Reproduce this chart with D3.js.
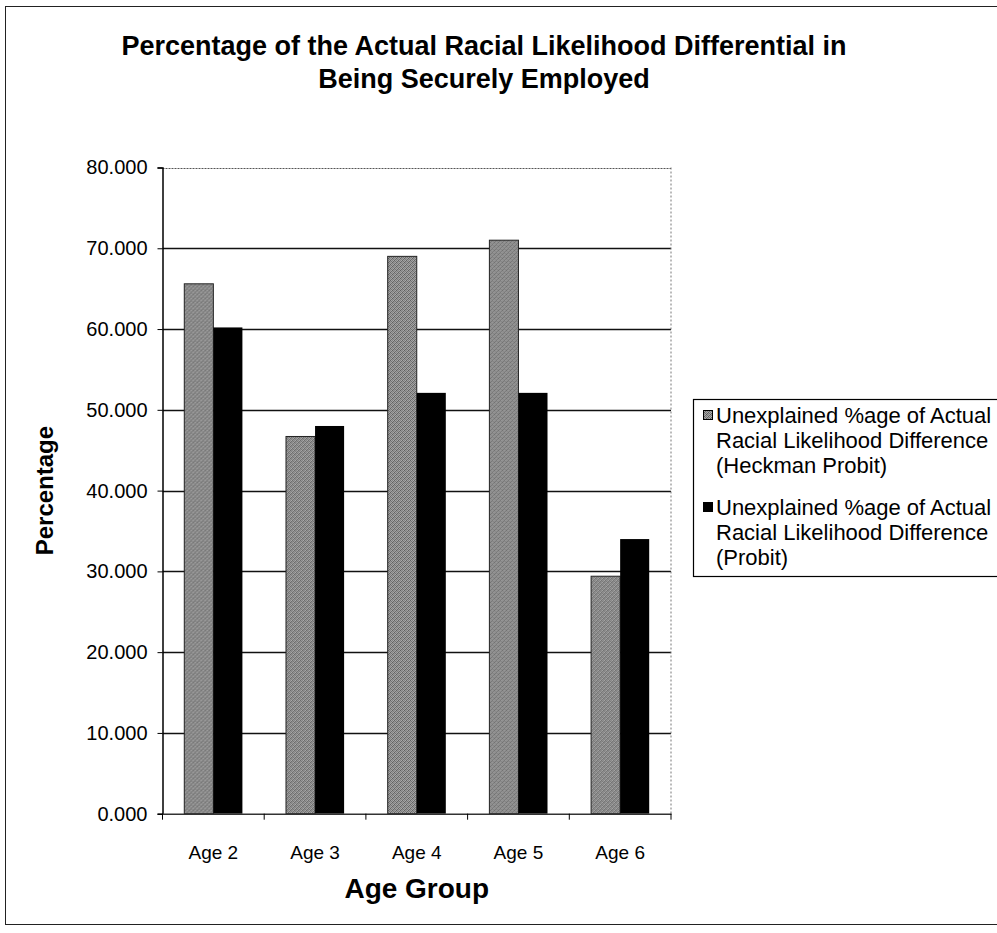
<!DOCTYPE html>
<html>
<head>
<meta charset="utf-8">
<script src="https://cdn.jsdelivr.net/npm/d3@7"></script>
<style>
  html, body { margin: 0; padding: 0; background: #fff; }
  svg { display: block; font-family: "Liberation Sans", Arial, Helvetica, sans-serif; }
</style>
</head>
<body>
<svg id="chart" width="997" height="933"></svg>
<script>
// Age groups along the x axis
const categories = ["Age 2", "Age 3", "Age 4", "Age 5", "Age 6"];
// Unexplained share of the racial likelihood difference, by model
const heckmanProbit = [65.6, 46.7, 69.0, 71.0, 29.4];
const probit = [60.2, 48.0, 52.1, 52.1, 34.0];
const seriesNames = [
  ["Unexplained %age of Actual", "Racial Likelihood Difference", "(Heckman Probit)"],
  ["Unexplained %age of Actual", "Racial Likelihood Difference", "(Probit)"]
];
const yTicks = [0, 10, 20, 30, 40, 50, 60, 70, 80];

const svg = d3.select("#chart");

// stippled grey fill for the first series (4x4 ordered dither tile)
const ditherTile = [
  ["#5a5a5a", "#a8a8a8", "#7c7c7c", "#b4b4b4"],
  ["#9c9c9c", "#6e6e6e", "#aaaaaa", "#626262"],
  ["#848484", "#b0b0b0", "#585858", "#9a9a9a"],
  ["#a4a4a4", "#686868", "#a0a0a0", "#787878"]
];
const defs = svg.append("defs");
const pat = defs.append("pattern")
  .attr("id", "dither").attr("width", 4).attr("height", 4)
  .attr("patternUnits", "userSpaceOnUse");
ditherTile.forEach((row, py) => row.forEach((c, px) =>
  pat.append("rect").attr("x", px).attr("y", py).attr("width", 1).attr("height", 1).attr("fill", c)));

const fills = ["url(#dither)", "#000"];

// outer chart frame
svg.append("rect")
  .attr("x", 5.5).attr("y", 6.5).attr("width", 1000).attr("height", 918)
  .attr("fill", "none").attr("stroke", "#222").attr("stroke-width", 1);

// plot area
const plot = { left: 162.5, right: 671, top: 167.5, bottom: 813.7 };

const x0 = d3.scaleBand().domain(categories).range([plot.left, plot.right]).padding(0);
const barW = x0.bandwidth() / 3.5;
const x1 = d3.scaleBand().domain([0, 1])
  .range([0.75 * barW, x0.bandwidth() - 0.75 * barW]).padding(0);
const y = d3.scaleLinear().domain([0, 80]).range([plot.bottom, plot.top]);

// title
svg.append("text")
  .attr("x", 484).attr("y", 55).attr("text-anchor", "middle")
  .attr("font-size", 27).attr("font-weight", "bold")
  .text("Percentage of the Actual Racial Likelihood Differential in");
svg.append("text")
  .attr("x", 484).attr("y", 88).attr("text-anchor", "middle")
  .attr("font-size", 27).attr("font-weight", "bold")
  .text("Being Securely Employed");

// horizontal gridlines
svg.append("g").selectAll("line")
  .data(yTicks.filter(v => v > 0 && v < 80))
  .join("line")
  .attr("x1", plot.left).attr("x2", plot.right)
  .attr("y1", d => Math.round(y(d)) + 0.5).attr("y2", d => Math.round(y(d)) + 0.5)
  .attr("stroke", "#111").attr("stroke-width", 1.3);

// plot-area border (top and right), dotted
svg.append("line")
  .attr("x1", plot.left).attr("x2", plot.right)
  .attr("y1", Math.round(y(80)) + 0.5).attr("y2", Math.round(y(80)) + 0.5)
  .attr("stroke", "#555").attr("stroke-width", 1.2).attr("stroke-dasharray", "2,1");
svg.append("line")
  .attr("x1", plot.right).attr("x2", plot.right)
  .attr("y1", plot.top).attr("y2", plot.bottom)
  .attr("stroke", "#777").attr("stroke-width", 1).attr("stroke-dasharray", "2,2");

// bars
const rows = categories.map((c, i) => ({ cat: c, vals: [heckmanProbit[i], probit[i]] }));
const groups = svg.append("g").selectAll("g")
  .data(rows).join("g")
  .attr("transform", d => `translate(${x0(d.cat)},0)`);
groups.selectAll("rect")
  .data(d => d.vals.map((v, s) => ({ v, s })))
  .join("rect")
  .attr("x", d => x1(d.s))
  .attr("width", x1.bandwidth())
  .attr("y", d => y(d.v))
  .attr("height", d => y(0) - y(d.v))
  .attr("fill", d => fills[d.s])
  .attr("stroke", d => d.s === 0 ? "#222" : "none")
  .attr("stroke-width", 1);

// y axis
const yAxis = svg.append("g")
  .attr("transform", `translate(${plot.left},0)`)
  .call(d3.axisLeft(y).tickValues(yTicks).tickFormat(d3.format(".3f")).tickSize(5).tickPadding(10));
yAxis.select(".domain").attr("stroke", "#000").attr("stroke-width", 1.5);
yAxis.selectAll(".tick line").attr("stroke", "#000");
yAxis.selectAll(".tick text").attr("font-size", 20).attr("fill", "#000")
  .attr("font-family", "'Liberation Sans', Arial, sans-serif");

// x axis
const xAxis = svg.append("g")
  .attr("transform", `translate(0,${plot.bottom})`)
  .call(d3.axisBottom(x0).tickSize(0).tickPadding(32));
xAxis.select(".domain").attr("stroke", "#333").attr("stroke-width", 1.5);
xAxis.selectAll(".tick text").attr("font-size", 19).attr("fill", "#000")
  .attr("font-family", "'Liberation Sans', Arial, sans-serif");
// category separators on the x axis
svg.append("g").selectAll("line")
  .data(categories.concat(["end"]))
  .join("line")
  .attr("x1", (d, i) => plot.left + i * x0.bandwidth())
  .attr("x2", (d, i) => plot.left + i * x0.bandwidth())
  .attr("y1", plot.bottom).attr("y2", plot.bottom + 6)
  .attr("stroke", "#000");

// axis titles
svg.append("text")
  .attr("transform", `translate(53,${(plot.top + plot.bottom) / 2}) rotate(-90)`)
  .attr("text-anchor", "middle")
  .attr("font-size", 24).attr("font-weight", "bold")
  .text("Percentage");
svg.append("text")
  .attr("x", (plot.left + plot.right) / 2).attr("y", 898)
  .attr("text-anchor", "middle")
  .attr("font-size", 28).attr("font-weight", "bold")
  .text("Age Group");

// legend
const legend = svg.append("g");
legend.append("rect")
  .attr("x", 693.5).attr("y", 399.5).attr("width", 320).attr("height", 177)
  .attr("fill", "#fff").attr("stroke", "#000").attr("stroke-width", 1.2);
const itemTop = [423, 515];
seriesNames.forEach((lines, s) => {
  legend.append("rect")
    .attr("x", 703.5).attr("y", itemTop[s] - 12.5).attr("width", 9).attr("height", 9)
    .attr("fill", fills[s]).attr("stroke", "#000").attr("stroke-width", 1);
  lines.forEach((t, k) => {
    legend.append("text")
      .attr("x", 716).attr("y", itemTop[s] + k * 25)
      .attr("font-size", 22).attr("fill", "#000")
      .text(t);
  });
});
</script>
</body>
</html>
